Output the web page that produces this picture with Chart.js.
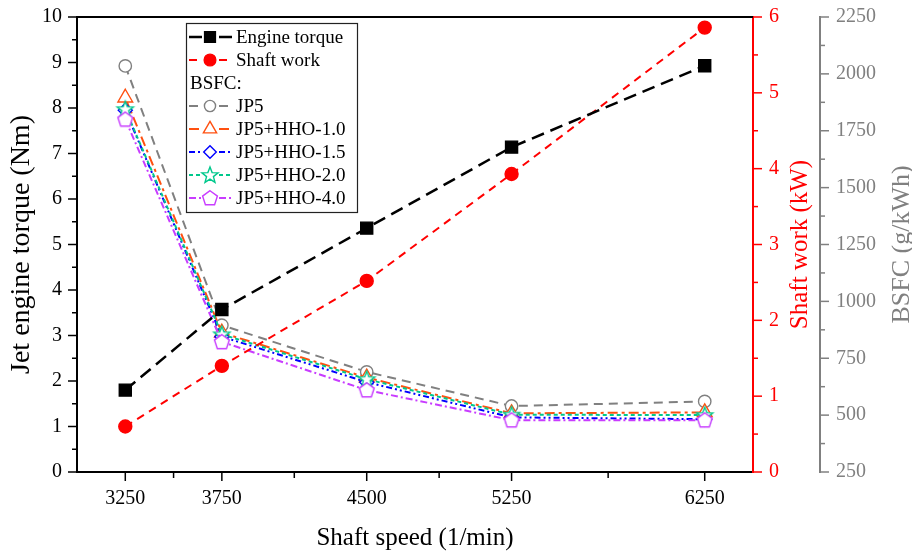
<!DOCTYPE html>
<html>
<head>
<meta charset="utf-8">
<script src="https://cdn.jsdelivr.net/npm/chart.js@4.4.0/dist/chart.umd.min.js"></script>
<style>
  html, body { margin: 0; padding: 0; background: #fff; }
</style>
</head>
<body>
<canvas id="grafico" width="912" height="553"></canvas>
<script>
// eixo x: rotação do eixo (1/min)
const speeds = [3250, 3750, 4500, 5250, 6250];

// torque (Nm) e trabalho no eixo (kW)
const torque = [1.8, 3.57, 5.36, 7.14, 8.93];
const shaftWork = [0.6, 1.40, 2.52, 3.93, 5.86];

// BSFC (g/kWh)
const bsfcJP5 = [2035, 895, 690, 540, 560];
const bsfcHHO10 = [1895, 862, 665, 508, 512];
const bsfcHHO15 = [1840, 845, 645, 490, 482];
const bsfcHHO20 = [1845, 855, 658, 502, 500];
const bsfcHHO40 = [1800, 822, 610, 478, 478];

const FONTE = '"Liberation Serif", "Times New Roman", serif';
const CINZA = '#808080';
const VERMELHO = '#ff0000';

// marcadores que o Chart.js não tem (estrela e pentágono)
function marcador(pontos, cor) {
  const c = document.createElement('canvas');
  c.width = 22; c.height = 22;
  const ctx = c.getContext('2d');
  ctx.translate(11, 11.5);
  ctx.beginPath();
  pontos.forEach(([x, y], i) => i ? ctx.lineTo(x, y) : ctx.moveTo(x, y));
  ctx.closePath();
  ctx.fillStyle = '#fff';
  ctx.fill();
  ctx.strokeStyle = cor;
  ctx.lineWidth = 1.4;
  ctx.stroke();
  return c;
}
function poligono(n, rExt, rInt) {
  const pts = [];
  const total = rInt ? n * 2 : n;
  for (let i = 0; i < total; i++) {
    const r = rInt && i % 2 ? rInt : rExt;
    const a = -Math.PI / 2 + i * 2 * Math.PI / total;
    pts.push([r * Math.cos(a), r * Math.sin(a)]);
  }
  return pts;
}
const estrela = marcador(poligono(5, 8.5, 3.6), '#00c88c');
const pentagono = marcador(poligono(5, 7.8), '#c83cff');

function serie(label, data, eixo, cor, dash, estilo, raio, extra) {
  return Object.assign({
    label, data: speeds.map((s, i) => ({ x: s, y: data[i] })), yAxisID: eixo,
    borderColor: cor, borderWidth: 2, borderDash: dash, tension: 0,
    pointStyle: estilo, pointRadius: raio, pointHoverRadius: raio,
    pointBorderColor: cor, pointBackgroundColor: '#fff', pointBorderWidth: 1.4,
  }, extra || {});
}

const datasets = [
  serie('Engine torque', torque, 'y', '#000', [13, 7], 'rect', 8.5,
    { borderWidth: 2.5, pointBackgroundColor: '#000', order: 0 }),
  serie('Shaft work', shaftWork, 'y1', VERMELHO, [8, 6], 'circle', 6.5,
    { pointBackgroundColor: VERMELHO, order: 1 }),
  serie('JP5', bsfcJP5, 'y2', CINZA, [9, 6], 'circle', 6.2, { order: 6 }),
  serie('JP5+HHO-1.0', bsfcHHO10, 'y2', '#ff5010', [10, 4, 3, 4], 'triangle', 8.5, { order: 5 }),
  serie('JP5+HHO-1.5', bsfcHHO15, 'y2', '#0000ff', [6, 3, 2, 3, 2, 3], 'rectRot', 7, { order: 4 }),
  serie('JP5+HHO-2.0', bsfcHHO20, 'y2', '#00c88c', [4, 3], estrela, 8, { order: 3 }),
  serie('JP5+HHO-4.0', bsfcHHO40, 'y2', '#c83cff', [7, 3, 2, 3], pentagono, 8, { order: 2 }),
];

// linhas de marcação (maiores e menores) de cada eixo
const eixosPlugin = {
  id: 'eixos',
  afterDraw(chart) {
    const { ctx, chartArea } = chart;
    ctx.save();
    ctx.lineWidth = 1.5;
    const cfg = [
      ['x', '#000', 9, 6], ['y', '#000', 9, 5], ['y1', VERMELHO, 9, 5], ['y2', CINZA, 9, 5],
    ];
    cfg.forEach(([id, cor, maior, menor]) => {
      const s = chart.scales[id];
      const vals = s.ticks.map(t => t.value);
      const marcas = vals.map(v => [v, maior]);
      for (let i = 1; i < vals.length; i++) marcas.push([(vals[i - 1] + vals[i]) / 2, menor]);
      ctx.strokeStyle = cor;
      marcas.forEach(([v, len]) => {
        const p = s.getPixelForValue(v);
        ctx.beginPath();
        if (id === 'x') { ctx.moveTo(p, s.top); ctx.lineTo(p, s.top + len); }
        else if (id === 'y') { ctx.moveTo(s.right - len, p); ctx.lineTo(s.right, p); }
        else { ctx.moveTo(s.left, p); ctx.lineTo(s.left + len, p); }
        ctx.stroke();
      });
    });
    // borda de cima
    ctx.strokeStyle = '#000';
    ctx.lineWidth = 2;
    ctx.beginPath();
    ctx.moveTo(chartArea.left - 1, chartArea.top);
    ctx.lineTo(chartArea.right, chartArea.top);
    ctx.stroke();

    // títulos dos eixos da direita (lidos de baixo para cima)
    const meio = (chartArea.top + chartArea.bottom) / 2;
    [['y1', 'Shaft work (kW)', VERMELHO, 25, 20], ['y2', 'BSFC (g/kWh)', CINZA, 26, 10]].forEach(([id, txt, cor, tam, off]) => {
      const s = chart.scales[id];
      ctx.save();
      ctx.translate(s.right - off, meio);
      ctx.rotate(-Math.PI / 2);
      ctx.font = tam + 'px ' + FONTE;
      ctx.fillStyle = cor;
      ctx.textAlign = 'center';
      ctx.textBaseline = 'middle';
      ctx.fillText(txt, 0, 0);
      ctx.restore();
    });
    ctx.restore();
  },
};

// legenda desenhada à mão, com a linha "BSFC:"
const legendaPlugin = {
  id: 'legenda',
  afterDraw(chart) {
    const { ctx } = chart;
    const linhas = [0, 1, 'BSFC:', 2, 3, 4, 5, 6];
    ctx.save();
    ctx.fillStyle = '#fff';
    ctx.fillRect(186, 23, 171, 189);
    ctx.strokeStyle = '#222';
    ctx.lineWidth = 1.2;
    ctx.strokeRect(186.5, 23.5, 171, 189);
    ctx.font = '19px ' + FONTE;
    ctx.textBaseline = 'middle';
    linhas.forEach((item, i) => {
      const y = 37 + 23 * i;
      ctx.fillStyle = '#000';
      if (typeof item === 'string') { ctx.fillText(item, 190, y + 1); return; }
      const ds = chart.data.datasets[item];
      ctx.strokeStyle = ds.borderColor;
      ctx.lineWidth = ds.borderWidth;
      ctx.setLineDash(ds.borderDash);
      ctx.beginPath();
      ctx.moveTo(189, y); ctx.lineTo(202, y);
      ctx.moveTo(219, y); ctx.lineTo(232, y);
      ctx.stroke();
      ctx.setLineDash([]);
      ctx.fillStyle = ds.pointBackgroundColor;
      ctx.strokeStyle = ds.pointBorderColor;
      ctx.lineWidth = ds.pointBorderWidth;
      Chart.helpers.drawPoint(ctx, {
        pointStyle: ds.pointStyle, radius: ds.pointRadius * 0.9,
        borderWidth: ds.pointBorderWidth, rotation: 0,
      }, 210, y);
      ctx.fillStyle = '#000';
      ctx.fillText(ds.label, 236, y + 1);
    });
    ctx.restore();
  },
};

const fonteTick = { family: FONTE, size: 20 };
const semVirgula = v => String(v);
// tamanho fixo de cada eixo, sem a folga extra dos rótulos
const fixar = (w, h) => axis => {
  if (w) axis.width = w;
  if (h) axis.height = h;
  axis.paddingTop = 0; axis.paddingBottom = 0;
  axis.paddingLeft = 0; axis.paddingRight = 0;
};

new Chart(document.getElementById('grafico'), {
  type: 'line',
  data: { datasets },
  options: {
    responsive: false,
    animation: false,
    layout: { padding: { top: 17, left: 0, right: 0, bottom: 0 } },
    plugins: { legend: { display: false }, tooltip: { enabled: false } },
    scales: {
      x: {
        type: 'linear', position: 'bottom', min: 3000, max: 6500,
        afterBuildTicks: axis => { axis.ticks = speeds.map(v => ({ value: v })); },
        afterFit: fixar(0, 81),
        grid: { display: false, drawTicks: false },
        border: { display: true, color: '#000', width: 2 },
        ticks: { font: fonteTick, color: '#000', padding: 15, maxRotation: 0, autoSkip: false, callback: semVirgula },
        title: {
          display: true, text: 'Shaft speed (1/min)', color: '#000',
          font: { family: FONTE, size: 25 }, padding: { top: 0, bottom: 0 },
        },
      },
      y: {
        position: 'left', min: 0, max: 10,
        afterFit: fixar(77, 0),
        grid: { display: false, drawTicks: false },
        border: { display: true, color: '#000', width: 2 },
        ticks: { stepSize: 1, font: fonteTick, color: '#000', padding: 15, callback: semVirgula },
        title: {
          display: true, text: 'Jet engine torque (Nm)', color: '#000',
          font: { family: FONTE, size: 28 }, padding: { top: 5, bottom: 0 },
        },
      },
      y1: {
        position: 'right', min: 0, max: 6, weight: 0,
        afterFit: fixar(67, 0),
        grid: { display: false, drawTicks: false },
        border: { display: true, color: VERMELHO, width: 2 },
        ticks: { stepSize: 1, font: fonteTick, color: VERMELHO, padding: 16, callback: semVirgula },
      },
      y2: {
        position: 'right', min: 250, max: 2250, weight: 1,
        afterFit: fixar(92, 0),
        grid: { display: false, drawTicks: false },
        border: { display: true, color: CINZA, width: 2 },
        ticks: { stepSize: 250, font: fonteTick, color: CINZA, padding: 16, callback: semVirgula },
      },
    },
  },
  plugins: [eixosPlugin, legendaPlugin],
});
</script>
</body>
</html>
